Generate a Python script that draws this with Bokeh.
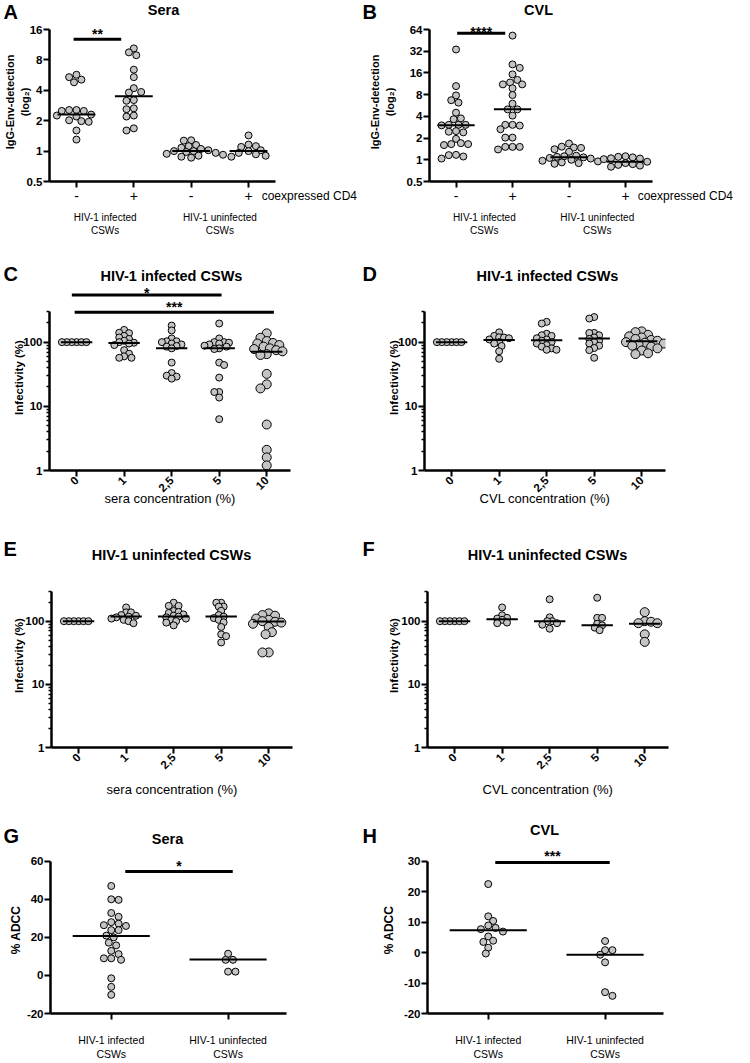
import math
from bokeh.plotting import figure
from bokeh.models import FixedTicker, Label, Range1d, LinearAxis
from bokeh.layouts import column, row
from bokeh.embed import file_html
from bokeh.resources import INLINE
from bokeh.core.properties import value

FONT = "Liberation Sans"
PT_FILL = "#c4c4c4"

# ---------------- data ----------------
cd4_labels = ["-", "+", "-", "+"]
cohort_labels = ["HIV-1 infected\nCSWs", "HIV-1 uninfected\nCSWs"]
conc_labels = ["0", "1", "2,5", "5", "10"]

# A: Sera IgG-Env detection
A_inf_neg = [5.7, 5.1, 4.8, 5.4, 2.5, 2.55, 2.5, 2.55, 2.3, 2.2, 2.25, 1.95, 1.98, 2.02, 1.6, 1.3]
A_inf_pos = [10.4, 8.9, 9.5, 6.4, 5.4, 4.2, 3.8, 3.85, 3.2, 3.15, 2.65, 2.6, 2.25, 2.2, 1.68, 1.6]
A_un_neg = [1.28, 1.27, 1.15, 1.12, 1.08, 1.05, 1.02, 1.0, 1.0, 0.98, 0.96, 0.94, 0.92, 0.9, 0.88, 0.86]
A_un_pos = [1.43, 1.16, 1.12, 1.10, 1.02, 1.0, 0.96, 0.93, 0.9, 0.88]
A_lines = [2.3, 3.5, 1.0, 1.0]

# B: CVL IgG-Env detection
B_inf_neg = [33.8, 10.5, 7.8, 6.7, 6.2, 4.5, 3.75, 3.65, 3.05, 3.05, 3.0, 3.05, 2.5, 2.45, 2.4,
             1.95, 1.65, 1.65, 1.6, 1.7, 1.17, 1.16, 1.11, 1.04]
B_inf_pos = [52.7, 21, 18.8, 15.3, 12.8, 11.8, 11.1, 11.1, 9.8, 7.9, 6.0, 5.0, 5.0, 4.1, 3.05,
             3.05, 2.98, 2.65, 2.03, 2.03, 1.51, 1.51, 1.51, 1.39]
B_un_neg = [1.68, 1.52, 1.48, 1.46, 1.40, 1.29, 1.14, 1.12, 1.1, 1.08, 1.06, 1.04, 1.0, 0.97,
            0.95, 0.92, 0.9, 0.88]
B_un_pos = [1.12, 1.1, 1.08, 1.05, 1.04, 1.02, 0.94, 0.9, 0.87, 0.85, 0.83, 0.8]
B_lines = [3.0, 5.0, 1.08, 0.94]

# C: infected, sera
C_vals = [
    [100, 100, 100, 100, 100, 100],
    [155, 140, 138, 125, 118, 112, 105, 100, 98, 95, 90, 75, 66, 60, 57, 57],
    [181, 152, 114, 103, 103, 100, 95, 92, 87, 85, 80, 48, 33, 30, 29, 27],
    [195, 114, 100, 100, 98, 95, 92, 88, 85, 80, 78, 48, 44, 28, 16.7, 16.7, 13.7, 6.3],
    [137, 117, 104, 97, 95, 90, 85, 80, 78, 75, 72, 65, 63, 32, 22, 19, 5.2, 2.1, 1.6, 1.2],
]
C_lines = [100, 97, 80, 80, 71]

# D: infected, CVL
D_vals = [
    [100, 100, 100, 100, 100, 100],
    [142, 125, 119, 118, 115, 110, 100, 95, 87, 72, 55],
    [207, 195, 135, 128, 125, 115, 110, 105, 100, 95, 90, 85, 80, 76, 76],
    [246, 233, 139, 139, 128, 118, 112, 105, 100, 95, 88, 81, 75, 57],
    [147, 143, 130, 123, 118, 112, 108, 105, 100, 98, 95, 92, 88, 85, 80, 74, 67, 65],
]
D_lines = [100, 108, 107, 114, 103]

# E: uninfected, sera
E_vals = [
    [100, 100, 100, 100, 100, 100],
    [165, 138, 138, 125, 122, 118, 115, 110, 105, 100, 93],
    [196, 175, 175, 145, 140, 135, 128, 122, 118, 115, 110, 105, 100, 95, 86],
    [196, 196, 170, 170, 146, 125, 118, 112, 105, 96, 81, 62, 58, 46],
    [133, 125, 122, 110, 105, 100, 98, 95, 91, 81, 67, 62, 32, 32],
]
E_lines = [100, 119, 119, 119, 99]

# F: uninfected, CVL
F_vals = [
    [100, 100, 100, 100, 100, 100],
    [165, 124, 113, 110, 105, 95, 93],
    [222, 115, 100, 100, 93, 88, 76],
    [235, 113, 113, 91, 86, 79, 72],
    [139, 100, 98, 93, 93, 62, 47],
]
F_lines = [100, 107, 100, 86, 91]

# G: ADCC sera
G_inf = [47, 40, 39.7, 32.8, 30.8, 28, 26.4, 26, 27.2, 23.8, 23.8, 20.9, 20, 17.2, 15.8, 12.9,
         11.2, 9.0, 8.2, 9.0, -1.5, -6, -10.2]
G_un = [8.2, 8.2, 11.4, 2.0, 2.0]
G_lines = [20.7, 8.4]

# H: ADCC CVL
H_inf = [22.5, 11.9, 10.4, 8.9, 8.1, 6.9, 7.7, 5.3, 3.9, 3.5, 1.6, -0.3]
H_un = [3.8, 0.8, -0.7, 0.8, -3.2, -13, -14.2]
H_lines = [7.3, -0.7]

# significance bars: (x start, x end, y, stars)
A_sig = [(-0.05, 0.78, 12.8, "**")]
B_sig = [(0.02, 0.87, 57, "****")]
C_sig = [(-0.1, 3.05, 542, "*"), (-0.04, 4.15, 292, "***")]
G_sig = [(0.12, 1.04, 54.6, "*")]
H_sig = [(0.06, 1.04, 29.6, "***")]

log2_ticks = [0.5, 1, 2, 4, 8, 16, 32, 64]
log2_labels = ["0.5", "1", "2", "4", "8", "16", "32", "64"]
inf_ticks = [1, 10, 100]
inf_labels = ["1", "10", "100"]
inf_minor = [2, 3, 4, 5, 6, 7, 8, 9, 20, 30, 40, 50, 60, 70, 80, 90, 200, 300]
G_ticks = [-20, 0, 20, 40, 60]
H_ticks = [-20, -10, 0, 10, 20, 30]

TOTAL_W = 750
LEFT_W, RIGHT_W = 366, 384


# ---------------- helpers ----------------
def style_axis(ax):
    ax.axis_line_width = 2.5
    ax.axis_line_color = "black"
    ax.major_tick_line_width = 2
    ax.major_tick_line_color = "black"
    ax.major_tick_out = 6
    ax.major_tick_in = 0
    ax.minor_tick_line_width = 1.5
    ax.minor_tick_line_color = "black"
    ax.minor_tick_out = 3
    ax.minor_tick_in = 0
    ax.major_label_text_font = FONT
    ax.major_label_text_color = "black"
    ax.axis_label_text_font = FONT
    ax.axis_label_text_font_style = "bold"
    ax.axis_label_text_color = "black"


def make_main(w, h, left, fw, bb, xr0, ppx, ylo, yhi, a, log, yticks, ylabels, yminor,
              xticks, xlabels, xbounds=None):
    """Frame starts at the canvas top; the y axis is bounded to [ylo, yhi],
    whose top lies `a` px below the frame top (room for significance bars)."""
    fh = h - bb
    if log:
        l0, l1 = math.log10(ylo), math.log10(yhi)
        per = (l1 - l0) / (fh - a)
        ytop = 10 ** (l1 + a * per)
        fy = lambda v: (math.log10(v) - l0) / per
    else:
        per = (yhi - ylo) / (fh - a)
        ytop = yhi + a * per
        fy = lambda v: (v - ylo) / per
    p = figure(width=w, height=h, x_range=Range1d(xr0, xr0 + fw / ppx),
               y_range=Range1d(ylo, ytop), y_axis_type="log" if log else "linear",
               output_backend="svg", toolbar_location=None,
               min_border_left=left, min_border_right=w - left - fw,
               min_border_top=0, min_border_bottom=bb)
    p.outline_line_color = None
    p.xgrid.visible = False
    p.ygrid.visible = False
    p.background_fill_color = "white"
    p.border_fill_color = "white"
    p.yaxis.ticker = FixedTicker(ticks=yticks, minor_ticks=yminor or [])
    p.yaxis.major_label_overrides = {t: s for t, s in zip(yticks, ylabels)}
    p.yaxis.bounds = (ylo, yhi)
    p.xaxis.ticker = FixedTicker(ticks=xticks)
    p.xaxis.major_label_overrides = {t: s for t, s in zip(xticks, xlabels)}
    if xbounds:
        p.xaxis.bounds = xbounds
    style_axis(p.xaxis[0])
    style_axis(p.yaxis[0])
    p.yaxis.major_label_text_font_style = "bold"
    p.yaxis.major_label_text_font_size = "11.5px"
    p.yaxis.major_label_standoff = 1
    return p, {"ppx": ppx, "fy": fy}


def swarm(ypx, diam, f):
    mind = f * diam
    step = 0.35 * diam
    placed = []
    res = [0.0] * len(ypx)
    order = sorted(range(len(ypx)), key=lambda i: -ypx[i])
    for n, i in enumerate(order):
        y = ypx[i]
        k = 0
        found = None
        while found is None:
            if k == 0:
                cands = [0.0]
            elif n % 2 == 0:
                cands = [k * step, -k * step]
            else:
                cands = [-k * step, k * step]
            for c in cands:
                if all((c - px) ** 2 + (y - py) ** 2 >= mind ** 2 for px, py in placed):
                    found = c
                    break
            k += 1
        placed.append((found, y))
        res[i] = found
    return res


def points(p, g, groups, sizes, lines, f=0.85):
    xs, ys, ss = [], [], []
    for i, (vals, sz) in enumerate(zip(groups, sizes)):
        offs = swarm([g["fy"](v) for v in vals], sz, f)
        xs += [i + o / g["ppx"] for o in offs]
        ys += list(vals)
        ss += [sz] * len(vals)
    p.scatter(x=xs, y=ys, size=ss, marker="circle", fill_color=PT_FILL,
              line_color="black", line_width=1)
    n = len(lines)
    p.segment(x0=[i - 0.33 for i in range(n)], x1=[i + 0.33 for i in range(n)],
              y0=lines, y1=lines, line_color="black", line_width=2)


def sig(p, bars, yoffs):
    p.segment(x0=[b[0] for b in bars], x1=[b[1] for b in bars],
              y0=[b[2] for b in bars], y1=[b[2] for b in bars],
              line_color="black", line_width=3)
    for b, yo in zip(bars, yoffs):
        p.add_layout(Label(x=(b[0] + b[1]) / 2, y=b[2], x_units="data", y_units="data",
                           text=b[3], text_font=FONT, text_font_size="14px",
                           text_font_style="bold", text_align="center",
                           text_baseline="bottom", y_offset=yo, text_color="black"))


def header(hh, items):
    """A strip above a row of panels holding the panel letters and titles."""
    p = figure(width=TOTAL_W, height=hh, x_range=Range1d(0, TOTAL_W), y_range=Range1d(hh, 0),
               x_axis_type=None, y_axis_type=None, output_backend="svg",
               toolbar_location=None, min_border=0)
    p.outline_line_color = None
    p.background_fill_color = "white"
    p.border_fill_color = "white"
    for text, x, y, size, align, base in items:
        p.text(x=[x], y=[y], text=[text], text_font=value(FONT),
               text_font_size=f"{size}px", text_font_style="bold", text_align=align,
               text_baseline=base, text_color="black")
    return p


# ---------------- row 1: A, B ----------------
ENV_PPX = 226 / 3.94


def env_panel(w, left, groups, lines, yhi, nt, ylab_standoff, sigbars, sig_yoffs):
    p, g = make_main(w, 233, left, w - left, 74, -0.47, ENV_PPX, 0.5, yhi, 7, True,
                     log2_ticks[:nt], log2_labels[:nt], None, [0, 1, 2, 3], cd4_labels,
                     xbounds=(-0.47, 3.47))
    p.xaxis.major_label_text_font_size = "14px"
    p.xaxis.major_label_standoff = 3
    p.yaxis.axis_label = "IgG-Env-detection\n(log\u2082)"
    p.yaxis.axis_label_text_font_size = "11px"
    p.yaxis.axis_label_standoff = ylab_standoff
    # "coexpressed CD4" sits on the same row as the +/- tick labels
    cd4 = LinearAxis(ticker=FixedTicker(ticks=[4.06]),
                     major_label_overrides={4.06: "coexpressed CD4"})
    style_axis(cd4)
    cd4.axis_line_color = None
    cd4.major_tick_line_color = None
    cd4.major_tick_out = 0
    cd4.major_label_standoff = -15
    cd4.major_label_text_font_size = "12px"
    p.add_layout(cd4, "below")
    grp = LinearAxis(ticker=FixedTicker(ticks=[0.5, 2.5]),
                     major_label_overrides={0.5: cohort_labels[0], 2.5: cohort_labels[1]})
    style_axis(grp)
    grp.axis_line_color = None
    grp.major_tick_line_color = None
    grp.major_tick_out = 0
    grp.major_label_standoff = 6
    grp.major_label_text_font_size = "10px"
    p.add_layout(grp, "below")
    points(p, g, groups, [7, 7, 7, 7], lines, 0.9)
    sig(p, sigbars, sig_yoffs)
    return p


pA = env_panel(LEFT_W, 49, [A_inf_neg, A_inf_pos, A_un_neg, A_un_pos], A_lines, 16, 6, -7,
               A_sig, [-3])
pB = env_panel(RIGHT_W, 58, [B_inf_neg, B_inf_pos, B_un_neg, B_un_pos], B_lines, 64, 8, 8,
               B_sig, [-7])
hdr1 = header(22, [("A", 3, 22, 20, "left", "bottom"),
                   ("Sera", 163, 9, 14.5, "center", "middle"),
                   ("B", 362, 22, 20, "left", "bottom"),
                   ("CVL", 538, 9, 14.5, "center", "middle")])

# ---------------- rows 2, 3: C-F ----------------
INF_PPX = 241 / 5.07


def inf_panel(w, h, left, bb, a, groups, lines, xlab, ylab_standoff, xlab_standoff,
              sigbars=None, sig_yoffs=None):
    p, g = make_main(w, h, left, 241, bb, -0.57, INF_PPX, 1, 300, a, True, inf_ticks,
                     inf_labels, inf_minor, [0, 1, 2, 3, 4], conc_labels)
    p.xaxis.major_label_orientation = math.pi / 4
    p.xaxis.major_label_text_font_style = "bold"
    p.xaxis.major_label_text_font_size = "11.5px"
    p.xaxis.major_label_standoff = 2
    p.xaxis.axis_label = xlab
    p.xaxis.axis_label_text_font_style = "normal"
    p.xaxis.axis_label_text_font_size = "13px"
    p.xaxis.axis_label_standoff = xlab_standoff
    p.yaxis.axis_label = "Infectivity (%)"
    p.yaxis.axis_label_text_font_size = "11.5px"
    p.yaxis.axis_label_standoff = ylab_standoff
    points(p, g, groups, [7, 7, 7, 7, 9], lines, 0.65)
    if sigbars:
        sig(p, sigbars, sig_yoffs)
    return p


pC = inf_panel(LEFT_W, 246, 49, 60, 27, C_vals, C_lines, "sera concentration (%)", -5, -7,
               C_sig, [-6, -3])
pD = inf_panel(RIGHT_W, 246, 58, 60, 27, D_vals, D_lines, "CVL concentration (%)", -5, -7)
hdr2 = header(29, [("C", 3, 29, 20, "left", "bottom"),
                   ("HIV-1 infected CSWs", 171, 20, 14.5, "center", "middle"),
                   ("D", 362, 29, 20, "left", "bottom"),
                   ("HIV-1 infected CSWs", 547, 20, 14.5, "center", "middle")])

pE = inf_panel(LEFT_W, 237, 51, 50, 28, E_vals, E_lines, "sera concentration (%)", -3, 7)
pF = inf_panel(RIGHT_W, 237, 61, 50, 28, F_vals, F_lines, "CVL concentration (%)", -2, 7)
hdr3 = header(33, [("E", 3, 29, 20, "left", "bottom"),
                   ("HIV-1 uninfected CSWs", 171, 24, 14.5, "center", "middle"),
                   ("F", 362, 29, 20, "left", "bottom"),
                   ("HIV-1 uninfected CSWs", 547, 24, 14.5, "center", "middle")])

# ---------------- row 4: G, H ----------------
ADCC_PPX = 236 / 2.02


def adcc_panel(w, left, ylo, yhi, yticks, groups, lines, ylab_standoff, sigbars):
    p, g = make_main(w, 216, left, 236, 46, -0.52, ADCC_PPX, ylo, yhi, 15, False, yticks,
                     [str(t) for t in yticks], None, [0, 1], cohort_labels)
    p.xaxis.major_label_text_font_size = "10.5px"
    p.xaxis.major_label_standoff = 14
    p.yaxis.axis_label = "% ADCC"
    p.yaxis.axis_label_text_font_size = "12px"
    p.yaxis.axis_label_standoff = ylab_standoff
    points(p, g, groups, [7, 7], lines, 0.9)
    sig(p, sigbars, [-2])
    return p


pG = adcc_panel(LEFT_W, 50, -20, 60, G_ticks, [G_inf, G_un], G_lines, 1, G_sig)
pH = adcc_panel(RIGHT_W, 61, -20, 30, H_ticks, [H_inf, H_un], H_lines, 5, H_sig)
hdr4 = header(46, [("G", 3, 46, 20, "left", "bottom"),
                   ("Sera", 167, 38, 14.5, "center", "middle"),
                   ("H", 362, 46, 20, "left", "bottom"),
                   ("CVL", 544, 29, 14.5, "center", "middle")])

layout = column(hdr1, row(pA, pB), hdr2, row(pC, pD), hdr3, row(pE, pF), hdr4, row(pG, pH))
open("out.html", "w").write(file_html(layout, INLINE))
